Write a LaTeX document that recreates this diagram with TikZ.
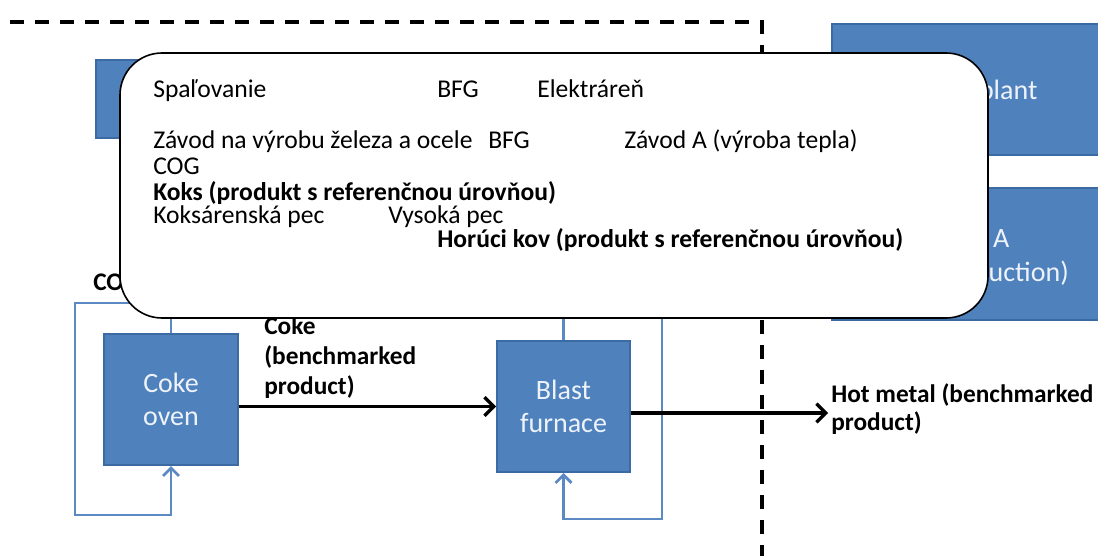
\documentclass[tikz,border=0pt]{standalone}
\usepackage{fontspec}
\setmainfont{Carlito}
\usetikzlibrary{arrows.meta}
\definecolor{boxblue}{HTML}{4F81BD}
\definecolor{boxedge}{HTML}{3C6AA3}
\definecolor{flowblue}{HTML}{5A89C4}
\definecolor{boxtext}{HTML}{EEF3FA}
\begin{document}
\begin{tikzpicture}[x=0.75pt,y=-0.75pt,
  unit/.style={draw=boxedge, line width=1.5pt, fill=boxblue, inner sep=0pt,
    text=boxtext, align=center, font=\fontsize{21pt}{25pt}\selectfont},
  unitlabel/.style={text=boxtext, align=center, inner sep=0pt, font=\fontsize{21pt}{25pt}\selectfont},
  flowlabel/.style={font=\fontsize{19pt}{22.5pt}\selectfont\bfseries, align=left, inner sep=0pt},
  notetext/.style={font=\fontsize{19.2pt}{22pt}\selectfont, anchor=base west, inner sep=0pt},
  noteboldtext/.style={notetext, font=\fontsize{19.2pt}{22pt}\selectfont\bfseries},
  product/.style={line width=2.6pt, -{Straight Barb[length=7pt,width=14pt,line width=2.4pt]}},
  recycle/.style={draw=flowblue, line width=2.2pt},
  recyclearrow/.style={recycle, -{Straight Barb[length=6pt,width=12pt,line width=2pt]}},
  boundary/.style={line width=3pt, dash pattern=on 10.5pt off 8.25pt}]
\clip (0,0) rectangle (1098,556);
\fill[white] (0,0) rectangle (1098,556);

% system boundary
\coordinate (d1) at (10,22);
\coordinate (d2) at (762,22);
\coordinate (d3) at (762,560);
\draw[boundary] (d1) -- (d2) -- (d3);

% upper left unit (mostly covered by the note)
\node[unit, minimum width=153pt, minimum height=58.5pt] (comb) at (198,99) {};

% units on the right
\node[unit, minimum width=205.5pt, minimum height=98.25pt] (power) at (969,89.5) {};
\node[unitlabel, anchor=base] (powerlbl) at (969,100) {Power plant};
\node[unit, minimum width=205.5pt, minimum height=99pt] (planta) at (969,254) {};
\node[unitlabel, anchor=base] (plantalbl) at (969,281) {Plant A\\(heat production)};

% coke oven and blast furnace
\node[unit, minimum width=100.5pt, minimum height=98.25pt] (coke) at (171,399.5) {Coke\\oven};
\node[unit, minimum width=99.75pt, minimum height=98.25pt] (bf) at (563.5,406.5) {Blast\\furnace};

% gas recycle loops
\coordinate (cl1) at (75,303);
\coordinate (cl2) at (75,515);
\draw[recyclearrow] (coke.north) |- (cl1) -- (cl2) -| (coke.south);
\coordinate (bfup) at (563.5,280);
\draw[recycle] (bf.north) -- (bfup);
\coordinate (br1) at (662,280);
\coordinate (br2) at (662,519);
\draw[recyclearrow] (br1) -- (br2) -| (bf.south);

% product flows
\draw[product] (coke.east |- bf.west) -- (bf.west);
\coordinate (hm) at (828,413);
\draw[product] (bf.east |- hm) -- (hm);

% flow labels
\node[flowlabel, anchor=base west] (coglbl) at (93,290) {COG};
\node[flowlabel, anchor=base west] (cokelbl) at (264,394) {Coke\\(benchmarked\\product)};
\node[flowlabel, anchor=base west, font=\fontsize{19pt}{21pt}\selectfont\bfseries] (hmlbl) at (831,430) {Hot metal (benchmarked\\product)};

% note box
\node[draw, line width=1.2pt, fill=white, rounded corners=31.5pt, minimum width=651pt, minimum height=198.75pt] (note) at (554,185.5) {};
\node[notetext] (t1) at (153,98) {Spaľovanie};
\node[notetext] (t2) at (437,98) {BFG};
\node[notetext] (t3) at (537,98) {Elektráreň};
\node[notetext] (t4) at (153,148) {Závod na výrobu železa a ocele};
\node[notetext] (t5) at (488,148) {BFG};
\node[notetext] (t6) at (624,148) {Závod A (výroba tepla)};
\node[notetext] (t7) at (153,174) {COG};
\node[noteboldtext] (t8) at (153,200) {Koks (produkt s referenčnou úrovňou)};
\node[notetext] (t9) at (153,223) {Koksárenská pec};
\node[notetext] (t10) at (388,223) {Vysoká pec};
\node[noteboldtext] (t11) at (437,247) {Horúci kov (produkt s referenčnou úrovňou)};
\end{tikzpicture}
\end{document}
